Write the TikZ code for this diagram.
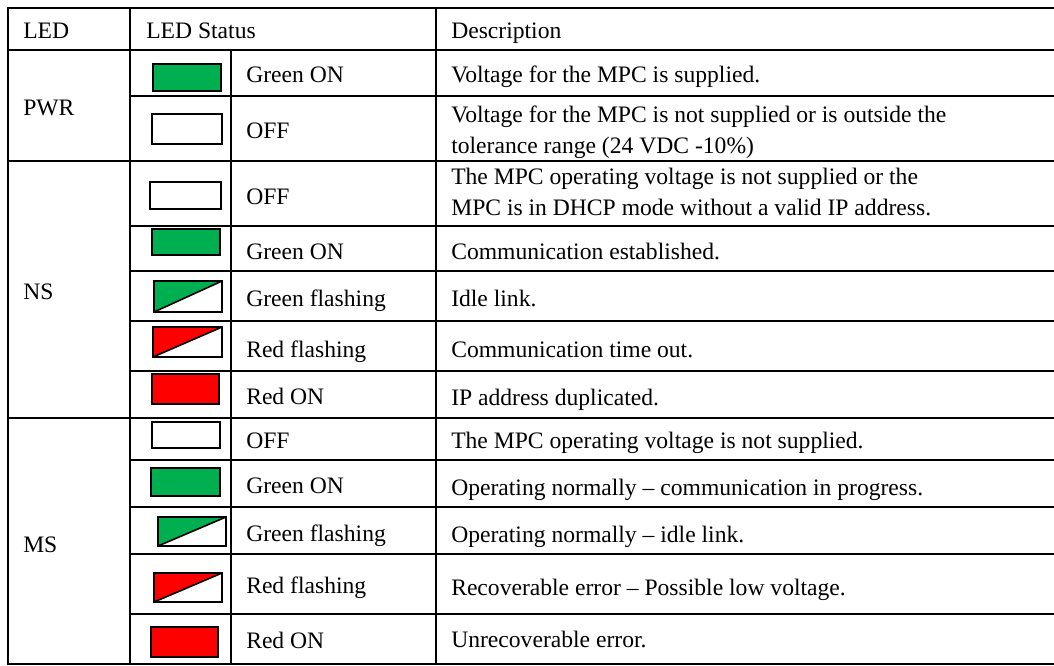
\documentclass[tikz,border=0pt]{standalone}
\usepackage{fontspec}
\setmainfont{Liberation Serif}
\definecolor{ledgreen}{HTML}{00B050}
\definecolor{ledred}{HTML}{FF0000}
\newcommand{\ledsolid}[5]{\filldraw[ledbox,fill=#5] (#1,#2) rectangle (#3,#4);}
\newcommand{\ledflash}[5]{\fill[#5] (#1,#4) -- (#1,#2) -- (#3,#2) -- cycle;
  \draw[ledbox] (#1,#2) rectangle (#3,#4); \draw[ledbox] (#1,#4) -- (#3,#2);}
\begin{document}
\begin{tikzpicture}[x=0.75pt,y=-0.75pt,
  grid/.style={line width=1.6pt, line cap=rect},
  thin grid/.style={line width=0.8pt},
  txt/.style={anchor=base west, inner sep=0pt, font=\fontsize{17.7}{23.25}\selectfont},
  ledbox/.style={draw=black, line width=1.2pt}]
\useasboundingbox (0,0) rectangle (1054,665);
% grid
\draw[grid] (8,8) -- (1054,8);
\draw[grid] (8,50) -- (1054,50);
\draw[grid] (130,96) -- (1054,96);
\draw[grid] (8,161) -- (1054,161);
\foreach \y in {226,271,321,371} \draw[grid] (130,\y) -- (1054,\y);
\draw[grid] (8,418) -- (1054,418);
\foreach \y in {460,507,554,614} \draw[grid] (130,\y) -- (1054,\y);
\draw[thin grid] (8,664) -- (1054,664);
\draw[grid] (8,8) -- (8,664);
\draw[grid] (130,8) -- (130,664);
\draw[grid] (231,50) -- (231,664);
\draw[grid] (436,8) -- (436,664);
% header
\node[txt] (hled) at (23,38) {LED};
\node[txt] (hstat) at (146,38) {LED Status};
\node[txt] (hdesc) at (451,38) {Description};
% LED names
\node[txt] (pwr) at (23,115) {PWR};
\node[txt] (ns) at (23,299) {NS};
\node[txt] (ms) at (23,552) {MS};
% icons
\ledsolid{153}{64}{221}{91}{ledgreen}
\ledsolid{152}{114}{222}{144}{white}
\ledsolid{150}{182}{221}{209}{white}
\ledsolid{152}{229}{220}{255}{ledgreen}
\ledflash{154}{281}{222}{312}{ledgreen}
\ledflash{153}{327}{222}{357}{ledred}
\ledsolid{152}{374}{219}{404}{ledred}
\ledsolid{152}{422}{220}{448}{white}
\ledsolid{151}{468}{220}{496}{ledgreen}
\ledflash{158}{517}{226}{546}{ledgreen}
\ledflash{154}{573}{222}{602}{ledred}
\ledsolid{151}{627}{218}{657}{ledred}
% status texts
\node[txt] (s1) at (246,82) {Green ON};
\node[txt] (s2) at (246,138) {OFF};
\node[txt] (s3) at (246,204) {OFF};
\node[txt] (s4) at (246,259) {Green ON};
\node[txt] (s5) at (246,306) {Green flashing};
\node[txt] (s6) at (246,357) {Red flashing};
\node[txt] (s7) at (246,404) {Red ON};
\node[txt] (s8) at (246,448) {OFF};
\node[txt] (s9) at (246,493) {Green ON};
\node[txt] (s10) at (246,541) {Green flashing};
\node[txt] (s11) at (246,593) {Red flashing};
\node[txt] (s12) at (246,648) {Red ON};
% descriptions
\node[txt] (d1) at (451,82) {Voltage for the MPC is supplied.};
\node[txt] (d2a) at (451,122) {Voltage for the MPC is not supplied or is outside the};
\node[txt] (d2b) at (451,153) {tolerance range (24 VDC -10\%)};
\node[txt] (d3a) at (451,184) {The MPC operating voltage is not supplied or the};
\node[txt] (d3b) at (451,215) {MPC is in DHCP mode without a valid IP address.};
\node[txt] (d4) at (451,259) {Communication established.};
\node[txt] (d5) at (451,306) {Idle link.};
\node[txt] (d6) at (451,357) {Communication time out.};
\node[txt] (d7) at (451,405) {IP address duplicated.};
\node[txt] (d8) at (451,448) {The MPC operating voltage is not supplied.};
\node[txt] (d9) at (451,495) {Operating normally – communication in progress.};
\node[txt] (d10) at (451,542) {Operating normally – idle link.};
\node[txt] (d11) at (451,595) {Recoverable error – Possible low voltage.};
\node[txt] (d12) at (451,647) {Unrecoverable error.};
\end{tikzpicture}
\end{document}
